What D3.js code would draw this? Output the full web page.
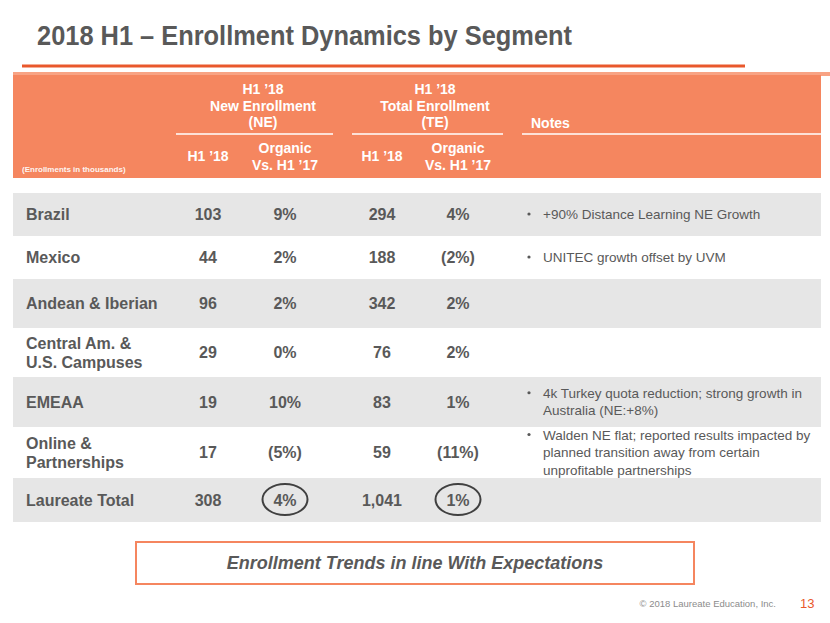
<!DOCTYPE html>
<html><head><meta charset="utf-8">
<script src="https://cdn.jsdelivr.net/npm/d3@7"></script>
<style>html,body{margin:0;padding:0;background:#fff;}svg{display:block;font-family:"Liberation Sans",Arial,sans-serif;}</style>
</head><body>
<script>
// ---------- data ----------
const title = "2018 H1 \u2013 Enrollment Dynamics by Segment";
const segments = ["Brazil", "Mexico", "Andean & Iberian", "Central Am. &\nU.S. Campuses", "EMEAA", "Online &\nPartnerships", "Laureate Total"];
const neValues = ["103", "44", "96", "29", "19", "17", "308"];
const neOrganic = ["9%", "2%", "2%", "0%", "10%", "(5%)", "4%"];
const teValues = ["294", "188", "342", "76", "83", "59", "1,041"];
const teOrganic = ["4%", "(2%)", "2%", "2%", "1%", "(11%)", "1%"];
const notes = [
  ["+90% Distance Learning NE Growth"],
  ["UNITEC growth offset by UVM"],
  [],
  [],
  ["4k Turkey quota reduction; strong growth in", "Australia (NE:+8%)"],
  ["Walden NE flat; reported results impacted by", "planned transition away from certain", "unprofitable partnerships"],
  []
];
const groupHeaders = [["H1 \u201918", "New Enrollment", "(NE)"], ["H1 \u201918", "Total Enrollment", "(TE)"]];
const subHeaders = ["H1 \u201918", "Organic\nVs. H1 \u201917", "H1 \u201918", "Organic\nVs. H1 \u201917"];
const circledRow = "Laureate Total";
const unitNote = "(Enrollments in thousands)";
const callout = "Enrollment Trends in line With Expectations";
const footer = "\u00a9 2018 Laureate Education, Inc.";
const pageNum = "13";

// ---------- layout ----------
const W = 830, H = 623;
const grey = "#595959", orange = "#F5865F", rowGrey = "#E6E6E6";
const tableLeft = 13, tableRight = 821;
const rowHeights = [43, 43, 49, 49, 50, 51, 44];

const svg = d3.select("body").append("svg").attr("width", W).attr("height", H);

// title
svg.append("text").attr("x", 37).attr("y", 45)
  .attr("font-size", 28).attr("font-weight", "bold").attr("fill", grey)
  .attr("textLength", 535).attr("lengthAdjust", "spacingAndGlyphs")
  .text(title);
svg.append("line").attr("x1", 22).attr("x2", 745).attr("y1", 66).attr("y2", 66)
  .attr("stroke", "#E9582C").attr("stroke-width", 3);

// column scale (numeric columns)
const cols = ["ne", "neOrg", "te", "teOrg"];
const colX = d3.scaleOrdinal().domain(cols).range([208, 285, 382, 458]);

// header block
svg.append("rect").attr("x", tableLeft).attr("y", 72).attr("width", W - tableLeft).attr("height", 4).attr("fill", "#F8A384");
svg.append("rect").attr("x", tableLeft).attr("y", 75).attr("width", tableRight - tableLeft).attr("height", 103).attr("fill", orange);
const groupCenters = [263, 435];
groupHeaders.forEach((lines, i) => {
  lines.forEach((t, j) => {
    svg.append("text").attr("x", groupCenters[i]).attr("y", 94 + j * 16.5)
      .attr("text-anchor", "middle").attr("font-size", 14).attr("font-weight", "bold").attr("fill", "#fff").text(t);
  });
});
[[176, 333], [352, 503], [522, tableRight]].forEach(([a, b]) => {
  svg.append("line").attr("x1", a).attr("x2", b).attr("y1", 134).attr("y2", 134).attr("stroke", "#fff").attr("stroke-width", 1.5);
});
svg.append("text").attr("x", 531).attr("y", 128).attr("font-size", 14).attr("font-weight", "bold").attr("fill", "#fff").text("Notes");
subHeaders.forEach((t, i) => {
  const lines = t.split("\n");
  const y0 = lines.length === 1 ? 161 : 153;
  lines.forEach((l, j) => {
    svg.append("text").attr("x", colX(cols[i])).attr("y", y0 + j * 16.5)
      .attr("text-anchor", "middle").attr("font-size", 14).attr("font-weight", "bold").attr("fill", "#fff").text(l);
  });
});
svg.append("text").attr("x", 22).attr("y", 172).attr("font-size", 8).attr("font-weight", "bold").attr("fill", "#fff").attr("opacity", 0.92).text(unitNote);

// rows
const rowTop = 193;
const rowY = [];
let acc = rowTop;
rowHeights.forEach(h => { rowY.push(acc); acc += h; });
const rows = segments.map((s, i) => ({
  seg: s, ne: neValues[i], neOrg: neOrganic[i], te: teValues[i], teOrg: teOrganic[i], notes: notes[i],
  y: rowY[i], h: rowHeights[i], i
}));

const g = svg.selectAll("g.row").data(rows).join("g").attr("class", "row")
  .attr("transform", d => `translate(0,${d.y})`);
g.append("rect").attr("x", tableLeft).attr("width", tableRight - tableLeft).attr("height", d => d.h)
  .attr("fill", d => d.i % 2 === 0 ? rowGrey : "#fff");

g.each(function(d) {
  const sel = d3.select(this);
  const cy = d.h / 2;
  const segLines = d.seg.split("\n");
  segLines.forEach((l, j) => {
    sel.append("text").attr("x", 26).attr("y", cy + 5.5 + (j - (segLines.length - 1) / 2) * 19)
      .attr("font-size", 16).attr("font-weight", "bold").attr("fill", grey).text(l);
  });
  cols.forEach(c => {
    sel.append("text").attr("x", colX(c)).attr("y", cy + 5.5).attr("text-anchor", "middle")
      .attr("font-size", 16).attr("font-weight", "bold").attr("fill", grey).text(d[c]);
  });
  const n = d.notes.length;
  d.notes.forEach((l, j) => {
    const y = cy + 4.5 + (j - (n - 1) / 2) * 17.5;
    if (j === 0) sel.append("circle").attr("cx", 529).attr("cy", y - 5).attr("r", 1.6).attr("fill", grey);
    sel.append("text").attr("x", 543).attr("y", y).attr("font-size", 13.5).attr("fill", grey).text(l);
  });
  if (d.seg === circledRow) {
    ["neOrg", "teOrg"].forEach(c => {
      sel.append("ellipse").attr("cx", colX(c)).attr("cy", cy - 0.5).attr("rx", 22.5).attr("ry", 15.5)
        .attr("fill", "none").attr("stroke", "#404040").attr("stroke-width", 2);
    });
  }
});

// callout box
svg.append("rect").attr("x", 136).attr("y", 542).attr("width", 558).attr("height", 42)
  .attr("fill", "#fff").attr("stroke", orange).attr("stroke-width", 2);
svg.append("text").attr("x", 415).attr("y", 569).attr("text-anchor", "middle")
  .attr("font-size", 18).attr("font-weight", "bold").attr("font-style", "italic").attr("fill", grey).text(callout);

// footer
svg.append("text").attr("x", 776).attr("y", 607).attr("text-anchor", "end")
  .attr("font-size", 9.5).attr("fill", "#8C8C8C").text(footer);
svg.append("text").attr("x", 800).attr("y", 608)
  .attr("font-size", 13).attr("fill", "#E9582C").text(pageNum);
</script>
</body></html>
